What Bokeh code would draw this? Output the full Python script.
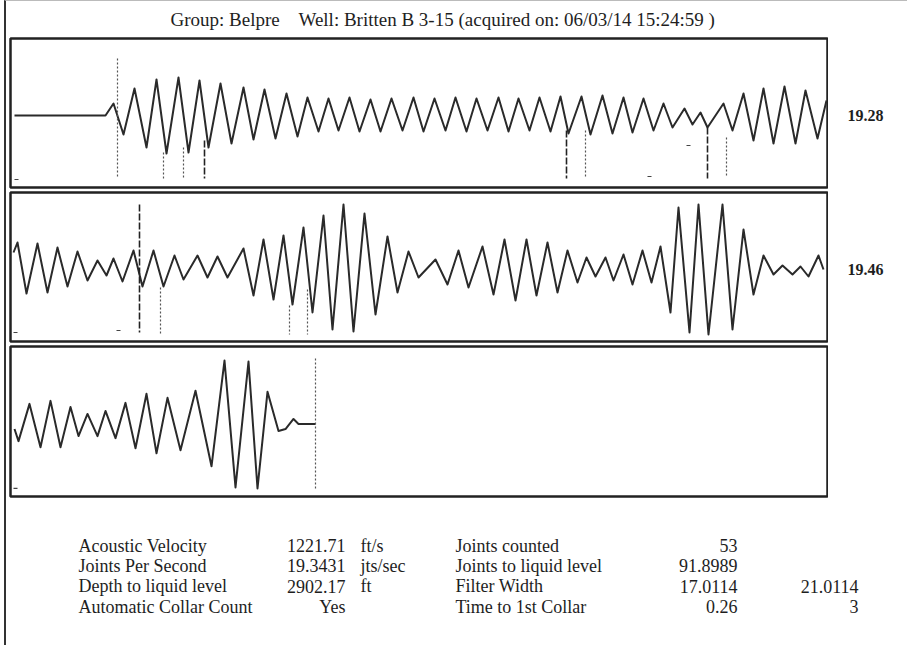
from bokeh.plotting import figure
from bokeh.layouts import column, row
from bokeh.models import Range1d
from bokeh.embed import file_html
from bokeh.resources import INLINE
from bokeh.core.properties import value

# ---------------- data ----------------
title_parts = ["Group: Belpre", "Well: Britten B 3-15 (acquired on: 06/03/14 15:24:59 )"]
row_rates = ["19.28", "19.46", ""]

# panel 1 waveform (time units, deflection)
p1_x = [4, 95, 103, 113, 124, 136, 146, 156, 168, 178, 189, 198, 210, 221, 233, 243, 254, 265,
        276, 287, 297, 308, 318, 328, 339, 349, 360, 370, 381, 392, 403, 413, 424, 435, 445, 456,
        466, 477, 488, 498, 508, 519, 529, 540, 550, 558, 571, 580, 592, 602, 613, 622, 633, 643,
        653, 662, 674, 682, 690, 697, 713, 722, 733, 743, 753, 763, 774, 785, 795, 807, 816]
p1_y = [0, 0, 12, -19, 27, -32, 36, -38, 38, -37, 35, -32, 32, -28, 28, -24, 26, -23,
        22, -21, 18, -16, 17, -15, 18, -16, 16, -16, 17, -15, 18, -16, 17, -15, 18, -16,
        17, -15, 18, -16, 17, -15, 18, -16, 19, -18, 19, -19, 20, -18, 18, -17, 17, -15,
        12, -12, 7, -9, 3, -12, 12, -15, 22, -25, 27, -28, 29, -28, 25, -23, 15]
# collar markers panel 1: position, top, bottom, kind (1 = solid mark, 0 = dotted)
p1_mx = [107, 153, 173, 194, 556, 575, 697, 716]
p1_mt = [57, -37, -32, -25, -15, -15, -12, -22]
p1_mb = [-62, -63, -62, -63, -63, -63, -63, -60]
p1_mk = [0, 0, 0, 1, 1, 0, 1, 0]
# stray small ticks panel 1
p1_tx = [6, 639, 678]
p1_ty = [-64, -61, -30]

# panel 2 waveform
p2_x = [3, 7, 16, 27, 37, 47, 57, 67, 77, 87, 96, 103, 112, 123, 132, 143, 153, 164, 173, 187,
        197, 207, 217, 233, 243, 253, 263, 273, 282, 293, 302, 313, 322, 333, 343, 354, 365, 377,
        387, 398, 408, 425, 437, 448, 458, 472, 483, 494, 505, 516, 526, 537, 547, 557, 567, 576,
        585, 595, 603, 613, 622, 632, 641, 650, 660, 668, 679, 688, 698, 712, 722, 733, 743, 753,
        763, 772, 782, 790, 798, 808, 813]
p2_y = [17, 27, -24, 26, -23, 22, -17, 18, -11, 9, -6, 11, -12, 19, -17, 19, -17, 14, -10, 14,
        -8, 13, -8, 21, -26, 30, -30, 34, -35, 42, -43, 54, -60, 65, -62, 56, -45, 33,
        -23, 18, -8, 10, -15, 19, -18, 23, -25, 30, -31, 30, -26, 27, -23, 19, -13, 12,
        -7, 12, -11, 15, -15, 19, -13, 23, -43, 62, -63, 65, -65, 65, -60, 40, -25, 14,
        -5, 4, -5, 3, -7, 14, 0]
p2_mx = [129, 150, 279, 297]
p2_mt = [65, -18, -36, -20]
p2_mb = [-63, -65, -65, -65]
p2_mk = [1, 0, 0, 0]
p2_tx = [5, 108]
p2_ty = [-63, -61]

# panel 3 waveform
p3_x = [4, 8, 19, 30, 40, 50, 60, 68, 77, 87, 95, 105, 115, 125, 136, 146, 157, 170, 185, 201,
        214, 225, 238, 247, 257, 268, 275, 283, 288, 305]
p3_y = [-5, -17, 20, -23, 23, -23, 17, -12, 10, -12, 13, -14, 21, -24, 30, -29, 26, -26, 33, -42,
        63, -63, 62, -64, 32, -7, -5, 5, 0, 0]
p3_mx = [305]
p3_mt = [65]
p3_mb = [-64]
p3_mk = [0]
p3_tx = [5]
p3_ty = [-64]

# summary table
t_labels1 = ["Acoustic Velocity", "Joints Per Second", "Depth to liquid level", "Automatic Collar Count"]
t_values1 = ["1221.71", "19.3431", "2902.17", "Yes"]
t_units1 = ["ft/s", "jts/sec", "ft", ""]
t_labels2 = ["Joints counted", "Joints to liquid level", "Filter Width", "Time to 1st Collar"]
t_values2 = ["53", "91.8989", "17.0114", "0.26"]
t_values3 = ["", "", "21.0114", "3"]

# ---------------- drawing ----------------
FONT = value("Liberation Serif")
INK = "#1e1e1e"
W = 901          # content width (after the 2px left rule and 4px offset)
OX = 6           # page x where the content starts
PW = 10 - OX + 817 + 1   # panel figure width


def base_fig(width, height, xr, yr, **kw):
    p = figure(width=width, height=height, x_range=xr, y_range=yr,
               x_axis_type=None, y_axis_type=None, toolbar_location=None,
               output_backend="svg", **kw)
    p.grid.visible = False
    p.background_fill_color = "white"
    p.border_fill_color = "white"
    return p


# title
tf = base_fig(W, 35, Range1d(OX, OX + W), Range1d(36, 1), min_border=0)
tf.outline_line_color = None
tf.text(x=[170, 298], y=[19, 19], text=title_parts, text_font=FONT,
        text_font_size="19px", text_color=INK, text_baseline="middle", text_align="left")


def panel(xs, ys, mx, mt, mb, mk, tx, ty, label, height, bottom_border):
    p = base_fig(PW, height, Range1d(0, 817), Range1d(-72, 77),
                 min_border_left=10 - OX, min_border_right=1, min_border_top=2,
                 min_border_bottom=bottom_border)
    p.outline_line_color = "#222222"
    p.outline_line_width = 2.5
    p.line(xs, ys, line_color="#2a2a2a", line_width=2, line_join="round")
    solid = [i for i, k in enumerate(mk) if k == 1]
    dots = [i for i, k in enumerate(mk) if k == 0]
    if solid:
        p.segment(x0=[mx[i] for i in solid], y0=[mt[i] for i in solid],
                  x1=[mx[i] for i in solid], y1=[mb[i] for i in solid],
                  line_color="#222222", line_width=1.6, line_dash="7 2")
    if dots:
        p.segment(x0=[mx[i] for i in dots], y0=[mt[i] for i in dots],
                  x1=[mx[i] for i in dots], y1=[mb[i] for i in dots],
                  line_color="#555555", line_width=1.2, line_dash="2 2")
    p.scatter(tx, ty, marker="dash", size=4, line_color="#444444", line_width=1.2)
    lf = base_fig(W - PW, height, Range1d(0, W - PW), Range1d(-72, 77),
                  min_border_left=0, min_border_right=0, min_border_top=2,
                  min_border_bottom=bottom_border)
    lf.outline_line_color = None
    if label:
        lf.text(x=[847 - OX - PW], y=[0], text=[label], text_font=FONT, text_font_size="16px",
                text_color=INK, text_baseline="middle", text_align="left",
                text_font_style="bold")
    return row(p, lf, spacing=0)


r1 = panel(p1_x, p1_y, p1_mx, p1_mt, p1_mb, p1_mk, p1_tx, p1_ty, row_rates[0], 154, 3)
r2 = panel(p2_x, p2_y, p2_mx, p2_mt, p2_mb, p2_mk, p2_tx, p2_ty, row_rates[1], 154, 3)
r3 = panel(p3_x, p3_y, p3_mx, p3_mt, p3_mb, p3_mk, p3_tx, p3_ty, row_rates[2], 155, 3)

# table
tb = base_fig(W, 146, Range1d(OX, OX + W), Range1d(645, 499), min_border=0)
tb.outline_line_color = None
ry = [545 + 20.4 * i for i in range(4)]
common = dict(text_font=FONT, text_font_size="18px", text_color=INK, text_baseline="middle")
tb.text(x=[78] * 4, y=ry, text=t_labels1, text_align="left", **common)
tb.text(x=[345] * 4, y=ry, text=t_values1, text_align="right", **common)
tb.text(x=[360] * 4, y=ry, text=t_units1, text_align="left", **common)
tb.text(x=[455] * 4, y=ry, text=t_labels2, text_align="left", **common)
tb.text(x=[737] * 4, y=ry, text=t_values2, text_align="right", **common)
tb.text(x=[858] * 4, y=ry, text=t_values3, text_align="right", **common)

layout = column(tf, r1, r2, r3, tb, spacing=0,
                styles={"border-left": "2px solid #333333", "border-top": "1px solid #bbbbbb",
                        "margin-left": "4px"})
open("out.html", "w").write(file_html(layout, INLINE))
